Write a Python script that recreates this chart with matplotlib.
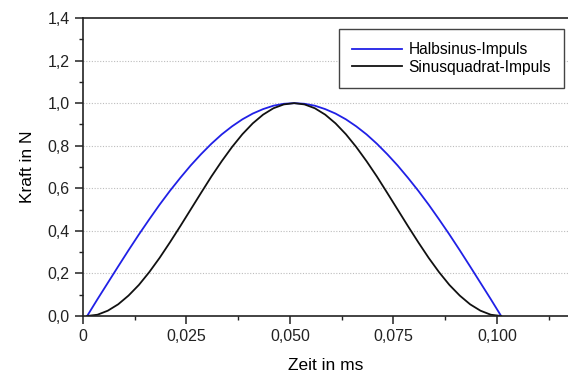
import matplotlib
matplotlib.use("Agg")
import matplotlib.pyplot as plt
from matplotlib.ticker import MultipleLocator, FuncFormatter

# Data (time in ms, force in N)
zeit = [0.001, 0.0035, 0.006, 0.0085, 0.011, 0.0135, 0.016, 0.0185, 0.021, 0.0235,
        0.026, 0.0285, 0.031, 0.0335, 0.036, 0.0385, 0.041, 0.0435, 0.046, 0.0485,
        0.051, 0.0535, 0.056, 0.0585, 0.061, 0.0635, 0.066, 0.0685, 0.071, 0.0735,
        0.076, 0.0785, 0.081, 0.0835, 0.086, 0.0885, 0.091, 0.0935, 0.096, 0.0985, 0.101]
halbsinus = [0.0, 0.079, 0.156, 0.233, 0.309, 0.383, 0.454, 0.523, 0.588, 0.649,
             0.707, 0.760, 0.809, 0.853, 0.891, 0.924, 0.951, 0.972, 0.988, 0.997,
             1.0, 0.997, 0.988, 0.972, 0.951, 0.924, 0.891, 0.853, 0.809, 0.760,
             0.707, 0.649, 0.588, 0.523, 0.454, 0.383, 0.309, 0.233, 0.156, 0.079, 0.0]
sinusquadrat = [0.0, 0.006, 0.025, 0.055, 0.096, 0.146, 0.206, 0.273, 0.346, 0.422,
                0.5, 0.578, 0.655, 0.727, 0.794, 0.854, 0.905, 0.946, 0.976, 0.994,
                1.0, 0.994, 0.976, 0.946, 0.905, 0.854, 0.794, 0.727, 0.655, 0.578,
                0.5, 0.422, 0.346, 0.273, 0.206, 0.146, 0.096, 0.055, 0.025, 0.006, 0.0]
labels = ["Halbsinus-Impuls", "Sinusquadrat-Impuls"]

plt.rcParams['font.family'] = ['Liberation Sans', 'DejaVu Sans']

fig = plt.figure(figsize=(5.68, 3.75), dpi=100)
ax = fig.add_axes([83/568, 1-316/375, 1-83/568, (316-18)/375])

ax.plot(zeit, halbsinus, color='#2020e6', lw=1.3, label=labels[0])
ax.plot(zeit, sinusquadrat, color='#111111', lw=1.3, label=labels[1])

ax.set_xlim(0, 0.11715)
ax.set_ylim(0, 1.4)
ax.xaxis.set_major_locator(MultipleLocator(0.025))
ax.xaxis.set_minor_locator(MultipleLocator(0.0125))
ax.yaxis.set_major_locator(MultipleLocator(0.2))
ax.yaxis.set_minor_locator(MultipleLocator(0.1))

def xfmt(v, pos):
    if abs(v) < 1e-9:
        return "0"
    return f"{v:.3f}".replace(".", ",")

def yfmt(v, pos):
    return f"{v:.1f}".replace(".", ",")

ax.xaxis.set_major_formatter(FuncFormatter(xfmt))
ax.yaxis.set_major_formatter(FuncFormatter(yfmt))

for yv in [0.2, 0.4, 0.6, 0.8, 1.0, 1.2]:
    ax.axhline(yv, color='#bdbdbd', lw=0.8, ls=(0, (1, 1.5)), zorder=0)

ax.spines['right'].set_visible(False)
for s in ['left', 'bottom', 'top']:
    ax.spines[s].set_linewidth(1.2)
    ax.spines[s].set_color('#222222')

ax.tick_params(which='major', direction='out', length=5.5, width=1.1, labelsize=11.5,
               colors='#222222', pad=4)
ax.tick_params(which='minor', direction='out', length=3, width=1.0, colors='#222222')
ax.tick_params(axis='both', which='both', top=False, right=False)

ax.set_xlabel("Zeit in ms", fontsize=12.5, labelpad=10)
ax.set_ylabel("Kraft in N", fontsize=12.5, labelpad=9)

leg = ax.legend(loc='upper right', bbox_to_anchor=(564/568, 1-29/375), bbox_transform=fig.transFigure,
                fancybox=False, framealpha=1, edgecolor='#444444', fontsize=11.2,
                handlelength=3.2, handletextpad=0.4, borderpad=0.85, labelspacing=0.15,
                borderaxespad=0)
leg.get_frame().set_linewidth(1.0)

fig.savefig("out.png", dpi=100)
